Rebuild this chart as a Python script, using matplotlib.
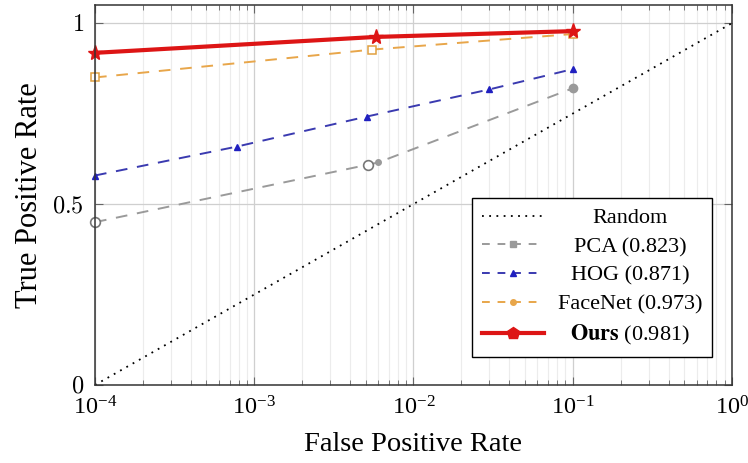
import numpy as np
import matplotlib.pyplot as plt
from matplotlib.lines import Line2D

plt.rcParams['font.family'] = ['Liberation Serif', 'DejaVu Serif']
plt.rcParams['mathtext.fontset'] = 'cm'

# valeurs
randomX = [1e-4, 1.0]
randomY = [0.0, 1.0]

pcaX = [1e-4, 5.2e-3, 6.0e-3, 0.1]
pcaY = [0.45, 0.609, 0.615, 0.82]
pcaOuvert = [True, True, False, False]

hogX = [1e-4, 7.8e-4, 5.1e-3, 3.0e-2, 0.1]
hogY = [0.579, 0.659, 0.742, 0.817, 0.873]

facenetX = [1e-4, 5.5e-3, 0.1]
facenetY = [0.85, 0.927, 0.97]

oursX = [1e-4, 5.8e-3, 0.1]
oursY = [0.918, 0.962, 0.978]

labels = ['Random', 'PCA (0.823)', 'HOG (0.871)', 'FaceNet (0.973)', r'$\mathbf{Ours}$ (0.981)']

cGris = '#9a9a9a'
cBleu = '#3a3ab0'
cOrange = '#e8a64a'
cRouge = '#dd1515'

fig = plt.figure(figsize=(7.48, 4.63), dpi=100)
ax = fig.add_axes([0.127, 0.1685, 0.8515, 0.8205])

ax.plot(randomX, randomY, color='black', linestyle=(0, (1, 3)), lw=1.3)

ax.plot(pcaX, pcaY, color=cGris, linestyle=(0, (6, 5)), lw=1.4)
for x, y, ouvert in zip(pcaX, pcaY, pcaOuvert):
    if ouvert:
        ax.plot(x, y, 'o', ms=7, mfc='white', mec='#777777', mew=1.2, clip_on=False)
    else:
        ax.plot(x, y, 'o', ms=6 if x > 0.05 else 4, mfc=cGris, mec=cGris, clip_on=False)

ax.plot(hogX, hogY, color=cBleu, linestyle=(0, (6, 5)), lw=1.4,
        marker='^', ms=5, mfc='#2020c0', mec='#2020c0', clip_on=False)
ax.plot(facenetX, facenetY, color=cOrange, linestyle=(0, (6, 5)), lw=1.4,
        marker='s', ms=6, mfc='white', mec='#e0a040', mew=1.1, clip_on=False)
ax.plot(oursX, oursY, color=cRouge, lw=3, marker='*', ms=11, mfc=cRouge, mec=cRouge, clip_on=False)

ax.set_xscale('log')
ax.set_xlim(1e-4, 1)
ax.set_ylim(0, 1.05)
ax.set_yticks([0, 0.5, 1])
ax.set_yticklabels(['$0$', '$0.5$', '$1$'])

ax.grid(True, which='major', color='#cfcfcf', lw=0.9)
ax.grid(True, which='minor', axis='x', color='#ececec', lw=0.8)
ax.set_axisbelow(True)

ax.tick_params(which='both', direction='in', top=True, right=True, labelsize=17.5, pad=8, color='#666666')
ax.tick_params(which='major', length=6)
ax.tick_params(which='minor', length=3.5)
ax.tick_params(axis='y', which='minor', left=False, right=False)
for s in ax.spines.values():
    s.set_color('#333333')
    s.set_linewidth(1.1)

ax.set_xlabel('False Positive Rate', fontsize=20.5, labelpad=9)
ax.set_ylabel('True Positive Rate', fontsize=22, labelpad=6)

handles = [
    Line2D([], [], color='black', linestyle=(0, (1, 3)), lw=1.3),
    Line2D([], [], color=cGris, linestyle=(0, (4, 4)), lw=1.4, marker='s', ms=4, mfc=cGris, mec=cGris),
    Line2D([], [], color=cBleu, linestyle=(0, (4, 4)), lw=1.4, marker='^', ms=5, mfc='#2020c0', mec='#2020c0'),
    Line2D([], [], color=cOrange, linestyle=(0, (4, 4)), lw=1.4, marker='o', ms=4, mfc=cOrange, mec=cOrange),
    Line2D([], [], color=cRouge, lw=3, marker='p', ms=9, mfc=cRouge, mec=cRouge),
]
leg = ax.legend(handles, labels, loc='lower right', bbox_to_anchor=(0.969, 0.074),
                borderaxespad=0, fontsize=16, fancybox=False, framealpha=1,
                edgecolor='black', handlelength=2.8, labelspacing=0.37, handletextpad=0.6,
                borderpad=0.45)
leg.get_frame().set_linewidth(1.0)
for t in leg.get_texts():
    t.set_math_fontfamily('stix')

# centrer les textes de la légende
fig.canvas.draw()
rend = fig.canvas.get_renderer()
larg = [t.get_window_extent(rend).width for t in leg.get_texts()]
for t, w in zip(leg.get_texts(), larg):
    t.set_x((max(larg) - w) / 2)

fig.savefig('out.png', dpi=100)
